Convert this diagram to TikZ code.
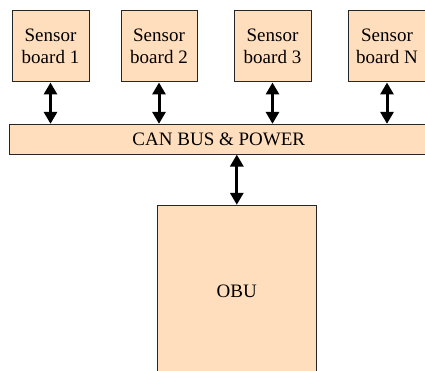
\documentclass[tikz,border=0pt]{standalone}
\usepackage{fontspec}
\setmainfont{Liberation Serif}
\usetikzlibrary{arrows.meta}
\definecolor{peach}{RGB}{255,222,190}
\tikzset{
  blk/.style={draw=black!85, line width=1pt, fill=peach, inner sep=0pt, align=center,
    font=\fontsize{19pt}{21.7pt}\selectfont},
  link/.style={line width=3pt, {Triangle[width=13pt,length=12pt]}-{Triangle[width=13pt,length=12pt]}}
}
\begin{document}
\begin{tikzpicture}[x=1pt,y=-1pt]
\useasboundingbox (0,0) rectangle (425,371);
\clip (0,0) rectangle (425,371);
\node[blk, minimum width=77pt, minimum height=71pt] (b1) at (50.5,46.5) {Sensor\\board 1};
\node[blk, minimum width=76pt, minimum height=71pt] (b2) at (159,46.5) {Sensor\\board 2};
\node[blk, minimum width=77pt, minimum height=71pt] (b3) at (272.5,46.5) {Sensor\\board 3};
\node[blk, minimum width=77pt, minimum height=71pt] (bn) at (387,46.5) {Sensor\\board N};
\node[blk, minimum width=419pt, minimum height=29.7pt] (bus) at (218.8,139.2) {CAN BUS \& POWER};
\node[blk, minimum width=159pt, minimum height=173pt] (obu) at (236.8,291.8) {OBU};
\foreach \b in {b1,b2,b3,bn}
  \draw[link] (\b.south) -- (\b.south |- bus.north);
\draw[link] (bus.south -| obu.north) -- (obu.north);
\end{tikzpicture}
\end{document}
